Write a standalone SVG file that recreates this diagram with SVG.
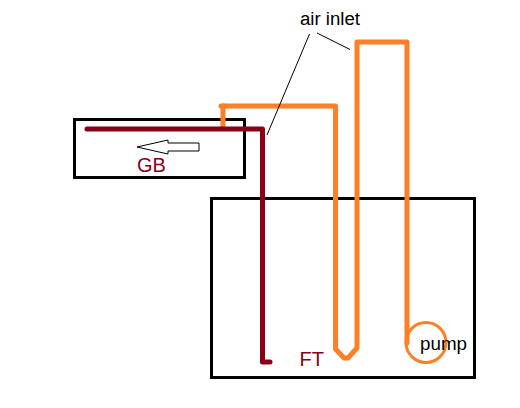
<svg xmlns="http://www.w3.org/2000/svg" width="520" height="408" viewBox="0 0 520 408">
<style>
.box{fill:none;stroke:#000;stroke-width:3}
.o{fill:none;stroke:#ff7f27;stroke-width:5;stroke-linecap:round;stroke-linejoin:round}
.r{fill:none;stroke:#880015;stroke-width:5;stroke-linecap:round;stroke-linejoin:round}
.l{fill:none;stroke:#000;stroke-width:1}
text{font-family:"Liberation Sans",Arial,sans-serif;font-size:18px}
.lbl{font-size:20px;fill:#880015}
</style>
<rect width="520" height="408" fill="#fff"/>
<g id="GB"><rect class="box" x="74.500" y="119.500" width="170" height="58"/><text class="lbl" x="137" y="172">GB</text></g>
<g id="FT"><rect class="box" x="211.500" y="198.500" width="263" height="179"/><text class="lbl" x="299.500" y="366">FT</text></g>
<g id="pump"><circle cx="426" cy="342.500" r="20" fill="none" stroke="#ff7f27" stroke-width="3"/><text x="420" y="350" fill="#000" textLength="47" lengthAdjust="spacingAndGlyphs">pump</text></g>
<g id="air-inlet"><text x="300" y="25" fill="#000" textLength="60" lengthAdjust="spacingAndGlyphs">air inlet</text></g>
<g id="arrow"><path d="M137 147L168 140V143H199V151H168V154Z" fill="#fff" stroke="#000" stroke-width="1"/></g>
<g id="connectors">
<path class="o" d="M223 128V106H335.500V349L344 358H348L357 348V42H407V343"/>
<path class="o" d="M221 106H224"/>
<path class="r" d="M87 129H262.500V362H270"/>
<path class="l" d="M309.500 34L267 135"/>
<path class="l" d="M317 33L350 49.500"/>
</g>
</svg>
